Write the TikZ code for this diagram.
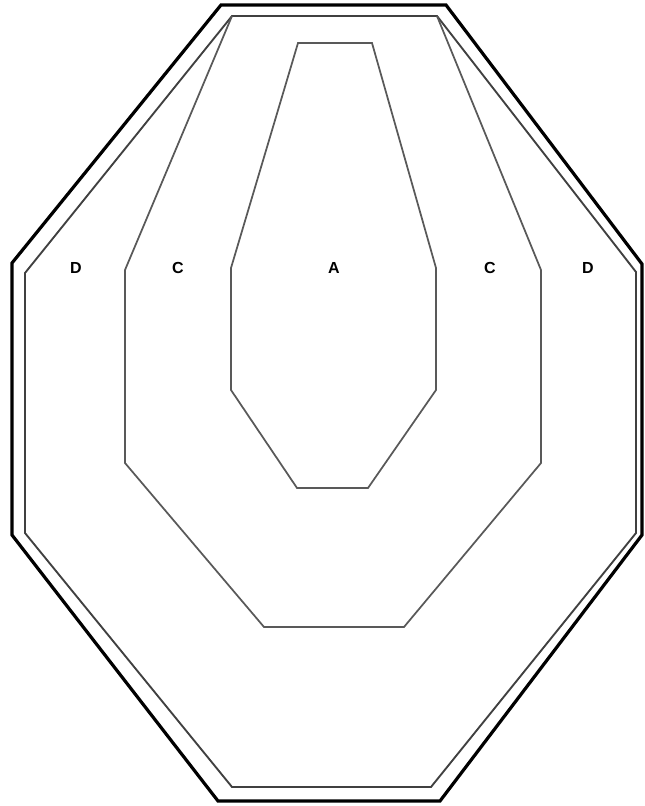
\documentclass[tikz,border=0pt]{standalone}
\usepackage{fontspec}
\setmainfont{Liberation Sans}
\begin{document}
\begin{tikzpicture}[x=0.75pt,y=-0.75pt,
  outerline/.style={draw=black,line width=2.4pt,line join=miter},
  innerline/.style={draw=black!75,line width=1.4pt,line join=miter},
  zoneline/.style={draw=black!65,line width=1.3pt,line join=miter},
  lbl/.style={font=\fontsize{12}{14}\selectfont\bfseries,inner sep=0pt}]
\useasboundingbox (0,0) rectangle (644,806);
\fill[white] (0,0) rectangle (644,806);
% outer octagon
\draw[outerline] (221,5) -- (446,5) -- (642,264) -- (642,535) -- (440,801) -- (218,801) -- (12,535) -- (12,263) -- cycle;
% inner octagon
\draw[innerline] (232,16) -- (437,16) -- (636,272) -- (636,533) -- (431,787) -- (232,787) -- (25,533) -- (25,273) -- cycle;
% C zone
\draw[zoneline] (232,16) -- (125,270) -- (125,463) -- (264,627) -- (404,627) -- (541,463) -- (541,270) -- (437,16);
% A zone
\draw[zoneline] (298,43) -- (372,43) -- (436,268) -- (436,390) -- (368,488) -- (297,488) -- (231,390) -- (231,268) -- cycle;
\node[lbl] (d1) at (76,268) {D};
\node[lbl] (c1) at (178,268) {C};
\node[lbl] (a) at (334,268) {A};
\node[lbl] (c2) at (490,268) {C};
\node[lbl] (d2) at (588,268) {D};
\end{tikzpicture}
\end{document}
